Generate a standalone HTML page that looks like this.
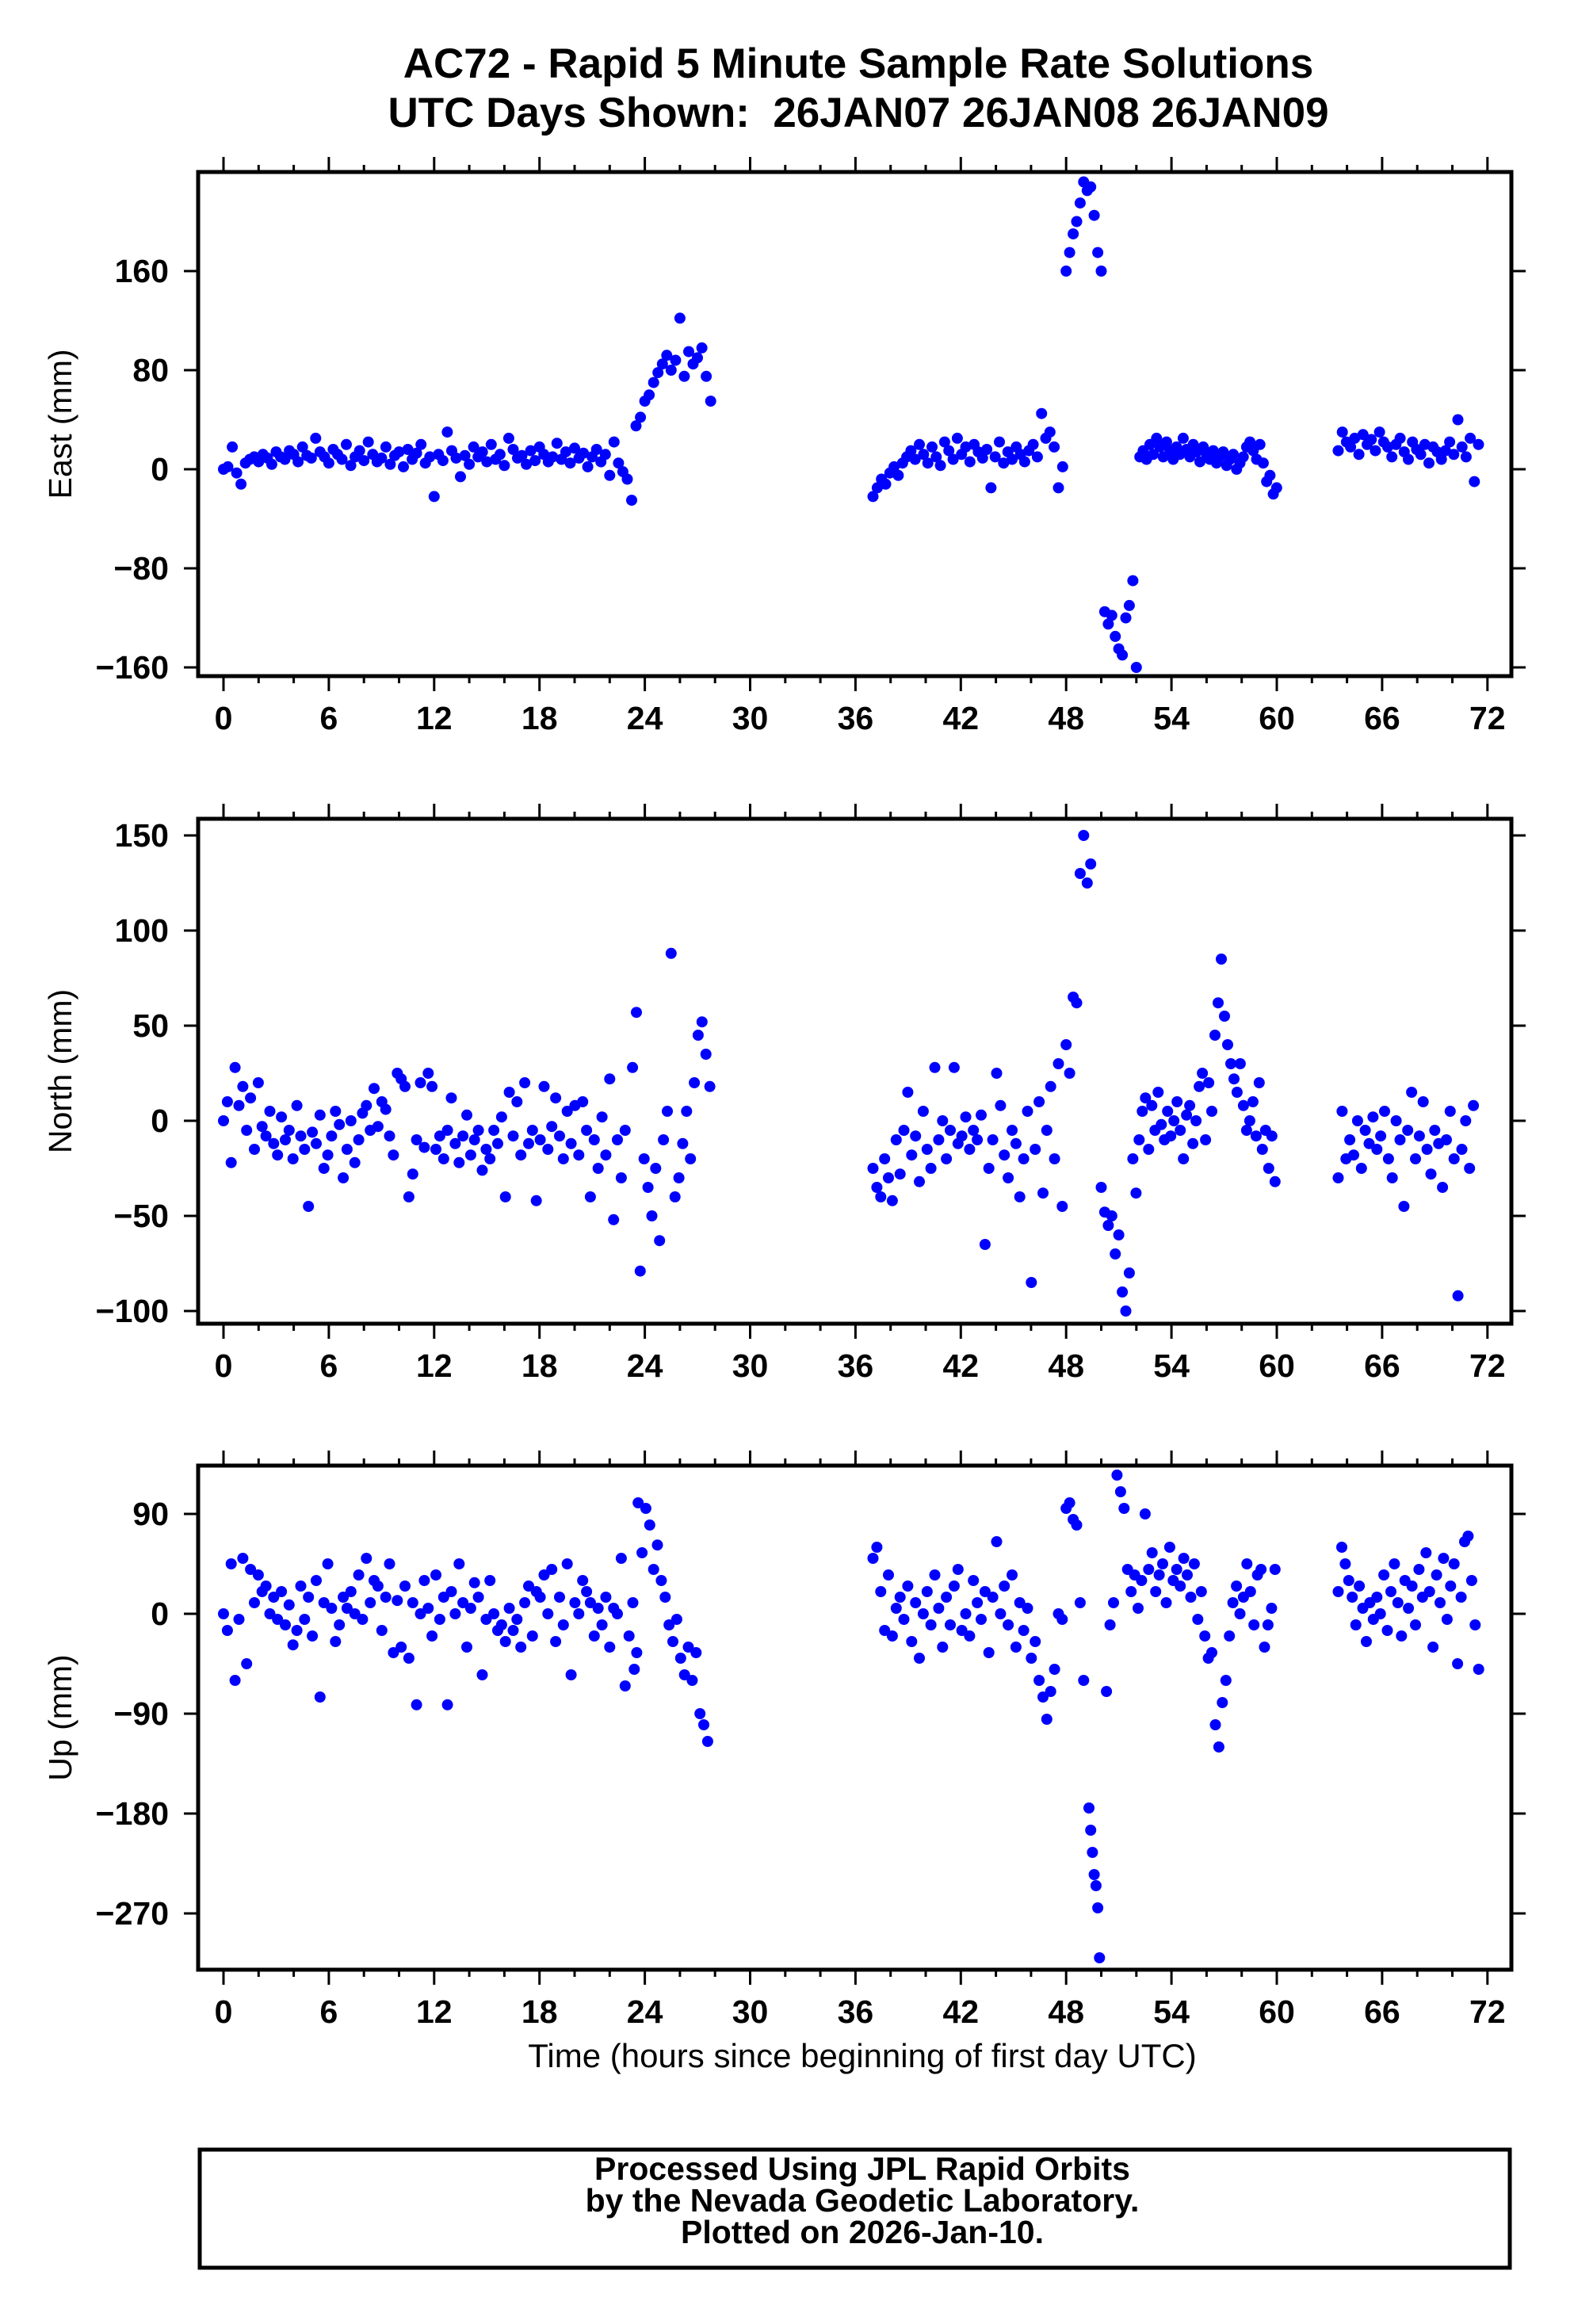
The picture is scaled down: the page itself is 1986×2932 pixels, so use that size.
<!DOCTYPE html>
<html><head><meta charset="utf-8"><style>
html,body{margin:0;padding:0;background:#fff}
svg{display:block}
text{font-family:"Liberation Sans",Arial,sans-serif;fill:#000}
</style></head><body>
<svg id="chart" xmlns="http://www.w3.org/2000/svg" width="1986" height="2932" viewBox="0 0 1986 2932">
<rect x="0" y="0" width="1986" height="2932" fill="#fff"/>
<text x="1083" y="98" text-anchor="middle" font-size="53" font-weight="bold">AC72 - Rapid 5 Minute Sample Rate Solutions</text>
<text x="1083" y="160" text-anchor="middle" font-size="53" font-weight="bold" xml:space="preserve">UTC Days Shown:  26JAN07 26JAN08 26JAN09</text>
<text x="1088" y="2608" text-anchor="middle" font-size="42">Time (hours since beginning of first day UTC)</text>
<rect x="252" y="2712" width="1653" height="149" fill="none" stroke="#000" stroke-width="5"/>
<text x="1088" y="2750" text-anchor="middle" font-size="41" font-weight="bold">Processed Using JPL Rapid Orbits</text>
<text x="1088" y="2790" text-anchor="middle" font-size="41" font-weight="bold">by the Nevada Geodetic Laboratory.</text>
<text x="1088" y="2830" text-anchor="middle" font-size="41" font-weight="bold">Plotted on 2026-Jan-10.</text>
<g id="plots"></g>
</svg>
<script>
// ---- data (segments: start hour, sample step, values in mm) ----
const xTickLabels = [0,6,12,18,24,30,36,42,48,54,60,66,72];

const eastTicks = [-160,-80,0,80,160];
const eastStarts = [0, 22.5, 37, 48, 50.2, 52.2, 63.5];
const eastSteps = [0.25, 0.25, 0.24, 0.2, 0.2, 0.19, 0.235];
const eastSeg1 = [0,2,18,-3,-12,5,8,10,6,12,9,4,14,10,8,15,12,6,18,11,9,25,14,10,5,16,12,8,20,3,10,15,7,22,12,6,9,18,4,11,14,2,16,8,13,20,5,10,-22,12,7,30,15,9,-6,11,4,18,10,14,6,20,8,12,3,25,16,9,11,4,15,7,18,12,6,10,21,8,14,5,17,9,13,2,10,16,6,12,-5,22];
const eastSeg2 = [5,-2,-8,-25,35,42,55,60,70,78,85,92,80,88,122,75,95,85,90,98,75,55];
const eastSeg3 = [-22,-15,-8,-12,-3,2,-5,5,10,15,8,20,12,5,18,10,3,22,15,8,25,12,18,6,20,14,9,16,-15,10,22,5,14,8,18,12,6,15,20,10,45,25,30,18,-15,2];
const eastSeg4 = [160,175,190,200,215,232,225,228,205,175,160];
const eastSeg5 = [-115,-125,-118,-135,-145,-150,-120,-110,-90,-160];
const eastSeg6 = [10,15,8,20,12,25,18,10,22,15,8,18,12,25,16,10,20,14,6,18,12,8,15,5,10,14,3,8,12,0,5,10,18,22,15,8,20,5,-10,-5,-20,-15];
const eastSeg7 = [15,30,22,18,25,12,28,20,24,15,30,22,18,10,20,25,14,8,22,16,12,20,5,18,14,8,15,22,12,40,18,10,25,-10,20];

const northTicks = [-100,-50,0,50,100,150];
const northStarts = [0, 23.3, 37, 48, 50, 51.8, 63.5];
const northSteps = [0.22, 0.22, 0.22, 0.2, 0.2, 0.18, 0.22];
const northSeg1 = [0,10,-22,28,8,18,-5,12,-15,20,-3,-8,5,-12,-18,2,-10,-5,-20,8,-8,-15,-45,-6,-12,3,-25,-18,-8,5,-2,-30,-15,0,-22,-10,4,8,-5,17,-3,10,6,-8,-18,25,22,18,-40,-28,-10,20,-14,25,18,-15,-8,-20,-5,12,-12,-22,-8,3,-18,-10,-5,-26,-15,-20,-5,-12,2,-40,15,-8,10,-18,20,-12,-5,-42,-10,18,-15,-3,12,-8,-20,5,-12,8,-18,10,-5,-40,-10,-25,2,-18,22,-52,-10,-30,-5];
const northSeg2 = [28,57,-79,-20,-35,-50,-25,-63,-10,5,88,-40,-30,-12,5,-20,20,45,52,35,18];
const northSeg3 = [-25,-35,-40,-20,-30,-42,-10,-28,-5,15,-18,-8,-32,5,-15,-25,28,-10,0,-20,-5,28,-12,-8,2,-15,-5,-10,3,-65,-25,-10,25,8,-18,-30,-5,-12,-40,-20,5,-85,-15,10,-38,-5,18,-20,30,-45];
const northSeg4 = [40,25,65,62,130,150,125,135];
const northSeg5 = [-35,-48,-55,-50,-70,-60,-90,-100,-80];
const northSeg6 = [-20,-38,-10,5,12,-15,8,-5,15,-2,-10,5,-8,0,10,-5,-20,3,8,-12,0,18,25,-10,20,5,45,62,85,55,40,30,22,15,30,8,-5,0,10,-8,20,-15,-5,-25,-8,-32];
const northSeg7 = [-30,5,-20,-10,-18,0,-25,-5,-12,2,-15,-8,5,-20,-30,0,-10,-45,-5,15,-20,-8,10,-15,-28,-5,-12,-35,-10,5,-20,-92,-15,0,-25,8];

const upTicks = [-270,-180,-90,0,90];
const upStarts = [0, 23.4, 37, 48, 49.3, 50.3, 63.5];
const upSteps = [0.22, 0.22, 0.22, 0.2, 0.1, 0.2, 0.2];
const upSeg1 = [0,-15,45,-60,-5,50,-45,40,10,35,20,25,0,15,-5,20,-10,8,-28,-15,25,-5,15,-20,30,-75,10,45,5,-25,-10,15,5,20,0,35,-5,50,10,30,25,-15,15,45,-35,12,-30,25,-40,10,-82,0,30,5,-20,35,-5,15,-82,20,0,45,10,-30,5,28,15,-55,-5,30,0,-15,-10,-25,5,-15,-5,-30,10,25,-20,20,15,35,0,40,-25,15,-10,45,-55,10,0,30,20,10,-20,5,-10,15,-30,5,0,50,-65,-20,10,-35];
const upSeg2 = [-50,100,55,95,80,40,62,30,15,-10,-25,-5,-40,-55,-30,-60,-35,-90,-100,-115];
const upSeg3 = [50,60,20,-15,35,-20,5,15,-5,25,-25,10,-40,0,20,-10,35,5,-30,15,-10,25,40,-15,0,-20,30,10,-5,20,-35,15,65,0,25,-10,35,-30,10,-15,5,-40,-25,-60,-75,-95,-70,-50,0,-5];
const upSeg4 = [95,100,85,80,10,-60];
const upSeg5 = [-175,-195,-215,-235,-245,-265,-310];
const upSeg6 = [-70,-10,10,125,110,95,40,20,35,5,30,90,40,55,20,35,45,10,60,30,40,25,50,35,15,45,-5,20,-20,-40,-35,-100,-120,-80,-60,-20,10,25,0,15,45,20,-10,35,40,-30,-10,5,40];
const upSeg7 = [20,60,45,30,15,-10,25,5,-25,10,-5,15,0,35,-15,20,45,10,-20,30,5,25,-10,40,15,55,20,-30,35,10,50,-5,25,45,-45,15,65,70,30,-10,-50];

// ---- layout ----
const NS = "http://www.w3.org/2000/svg";
const X0 = 282, XS = 22.15, FL = 250, FR = 1907;
function xScale(t){ return X0 + t * XS; }
function mk(tag, attrs, parent){
  const e = document.createElementNS(NS, tag);
  for (const k in attrs) e.setAttribute(k, attrs[k]);
  parent.appendChild(e);
  return e;
}
const root = document.getElementById('plots');

const panels = [
  {key:'east', title:'East (mm)', top:217, bottom:853, y0:592, k:1.5625, ticks:eastTicks, starts:eastStarts, steps:eastSteps,
   segs:[eastSeg1,eastSeg2,eastSeg3,eastSeg4,eastSeg5,eastSeg6,eastSeg7]},
  {key:'north', title:'North (mm)', top:1033, bottom:1670, y0:1414, k:2.4, ticks:northTicks, starts:northStarts, steps:northSteps,
   segs:[northSeg1,northSeg2,northSeg3,northSeg4,northSeg5,northSeg6,northSeg7]},
  {key:'up', title:'Up (mm)', top:1849, bottom:2485, y0:2036, k:1.4, ticks:upTicks, starts:upStarts, steps:upSteps,
   segs:[upSeg1,upSeg2,upSeg3,upSeg4,upSeg5,upSeg6,upSeg7]}
];

panels.forEach(p => {
  const yScale = v => p.y0 - v * p.k;
  const g = mk('g', {}, root);
  
  

  const tg = mk('g', {stroke:'#000','stroke-width':3}, g);
  
  
  for (let h = 0; h <= 72; h += 2) {
    const x = xScale(h), len = (h % 6 === 0) ? 19 : 9;
    mk('line', {x1:x, x2:x, y1:p.top, y2:p.top - len}, tg);
    mk('line', {x1:x, x2:x, y1:p.bottom, y2:p.bottom + len}, tg);
  }
  xTickLabels.forEach(h => {
    const t = mk('text', {x:xScale(h), y:p.bottom + 67, 'text-anchor':'middle','font-size':41,'font-weight':'bold'}, g);
    
    
    t.textContent = h;
  });

  p.ticks.forEach(v => {
    const y = yScale(v);
    mk('line', {x1:FL - 18, x2:FL, y1:y, y2:y, stroke:'#000','stroke-width':3}, g);
    mk('line', {x1:FR, x2:FR + 18, y1:y, y2:y, stroke:'#000','stroke-width':3}, g);
    const t = mk('text', {x:213, y:y + 14, 'text-anchor':'end','font-size':41,'font-weight':'bold'}, g);
    
    
    t.textContent = v < 0 ? '\u2212' + Math.abs(v) : String(v);
  });

  const cy = (p.top + p.bottom) / 2;
  const yt = mk('text', {x:0, y:0, 'text-anchor':'middle','font-size':41, transform:'translate(90,' + cy + ') rotate(-90)'}, g);
  
  
  yt.textContent = p.title;

  const pg = mk('g', {fill:'#0000ff'}, g);
  
  
  p.segs.forEach((vals, si) => {
    vals.forEach((v, i) => {
      const t = p.starts[si] + i * p.steps[si];
      const c = mk('circle', {cx:xScale(t).toFixed(1), cy:yScale(v).toFixed(1), r:7}, pg);
      
      
    });
  });

  const fr = mk('rect', {x:FL, y:p.top, width:FR - FL, height:p.bottom - p.top, fill:'none', stroke:'#000','stroke-width':5}, g);
  
  
});
</script>
</body></html>
